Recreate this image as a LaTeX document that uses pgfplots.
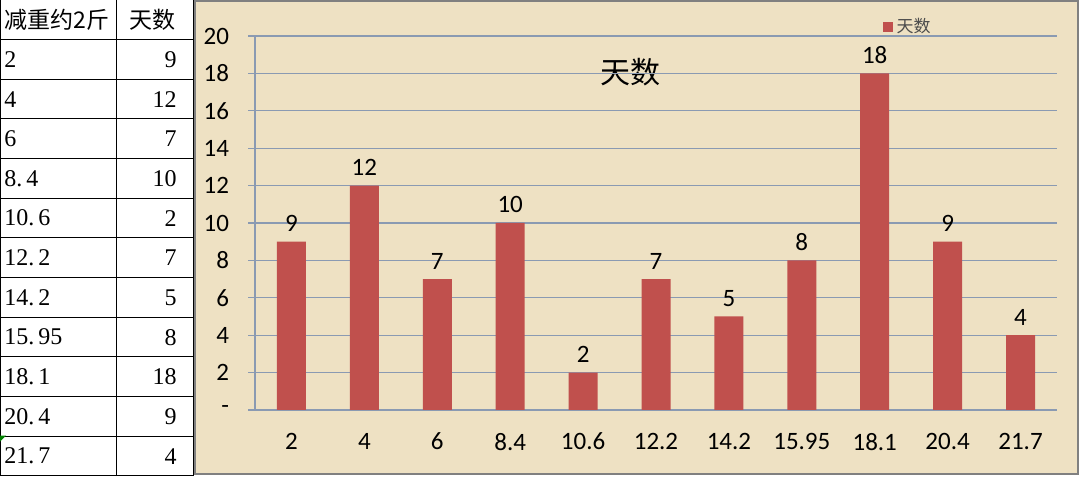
\documentclass[border=0pt]{standalone}
\usepackage{pgfplots}
\pgfplotsset{compat=1.18}
\usepackage{fontspec}
\setmainfont{Carlito}
\newfontfamily\cjk{Noto Sans CJK SC}
\newfontfamily\tabfont{Liberation Serif}
\definecolor{barred}{HTML}{C0504D}
\definecolor{parch}{HTML}{EEE1C3}
\definecolor{gridc}{HTML}{8A9AB2}
\begin{document}
\begin{tikzpicture}[x=1pt,y=1pt]
\path[use as bounding box] (0,0) rectangle (540,238);
\fill[white] (0,0) rectangle (540,238);
% chart area background
\fill[parch] (97.5,1) rectangle (539,237.5);
\draw[gray, line width=1pt] (97.5,1) rectangle (539,237.5);
% table grid
\foreach \i in {0,...,12} {
  \draw[black, line width=0.5pt] (0,{238-\i*19.833}) -- (96.5,{238-\i*19.833});
}
\draw[black, line width=0.5pt] (0.3,0) -- (0.3,238);
\draw[black, line width=0.5pt] (58,0) -- (58,238);
\draw[black, line width=0.5pt] (96.5,0) -- (96.5,238);
\fill[green!50!black] (0,20.2) -- (3,20.2) -- (0,17.2) -- cycle;
% table text
\node[anchor=west, inner sep=0] at (2,228.1) {\cjk\fontsize{11.5}{13}\selectfont 减重约2斤};
\node[anchor=center, inner sep=0] at (76,228.1) {\cjk\fontsize{11.5}{13}\selectfont 天数};
\foreach \a/\b [count=\i] in {2/9,4/12,6/7,8.\,4/10,10.\,6/2,12.\,2/7,14.\,2/5,15.\,95/8,18.\,1/18,20.\,4/9,21.\,7/4} {
  \node[anchor=west, inner sep=0] at (2,{238-19.833*(\i+0.5)}) {\tabfont\fontsize{12}{14}\selectfont \a};
  \node[anchor=east, inner sep=0] at (88.5,{238-19.833*(\i+0.5)}) {\tabfont\fontsize{12}{14}\selectfont \b};
}
\node at (315,202) {\cjk\fontsize{15}{17}\selectfont 天数};
\begin{axis}[
  at={(127.5pt,33pt)}, anchor=south west,
  scale only axis, width=401pt, height=187pt,
  ybar, bar width=14.5pt,
  xmin=-0.5, xmax=10.5, ymin=0, ymax=20,
  ytick={0,2,...,20},
  yticklabels={-,2,4,6,8,10,12,14,16,18,20},
  xtick={0,...,10},
  xticklabels={2,4,6,8.4,10.6,12.2,14.2,15.95,18.1,20.4,21.7},
  major x tick style={draw=none},
  extra x ticks={-0.5,0.5,...,10.5},
  extra x tick labels={},
  extra x tick style={grid=none, major tick length=3.5pt, tick style={gridc, line width=0.6pt}},
  tick align=outside, major tick length=3.5pt,
  ytick style={gridc, line width=0.6pt},
  ymajorgrids, grid style={gridc, line width=0.6pt},
  axis x line*=bottom, axis y line*=left,
  axis line style={-, gridc, line width=0.6pt},
  tick label style={font=\fontsize{12.5}{14}\selectfont, text=black},
  yticklabel style={xshift=-6pt},
  xticklabel style={yshift=-4.5pt},
  /pgf/number format/assume math mode=true,
  nodes near coords,
  nodes near coords style={font=\fontsize{12.5}{14}\selectfont, text=black, yshift=1.5pt},
  legend style={at={(0.782,1.0)}, anchor=west, draw=none, fill=none,
    font=\cjk\fontsize{8.5}{10}\selectfont, text=black!70, inner sep=0pt, yshift=4.5pt},
  legend image code/.code={\fill[barred] (0pt,-2.5pt) rectangle (5pt,2.5pt);},
]
\addplot[fill=barred, draw=none] coordinates {(0,9) (1,12) (2,7) (3,10) (4,2) (5,7) (6,5) (7,8) (8,18) (9,9) (10,4)};
\addlegendentry{天数}
\end{axis}
\end{tikzpicture}
\end{document}
